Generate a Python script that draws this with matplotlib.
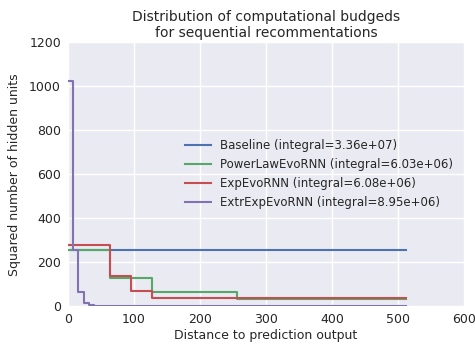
import numpy as np
import matplotlib
matplotlib.use("Agg")
import matplotlib.pyplot as plt

# step breakpoints (distance) and levels (squared hidden units)
base_x = [0, 512]
base_y = [256, 256]

power_x = [0, 64, 128, 256, 512]
power_y = [256, 128, 64, 32, 32]

exp_x = [0, 64, 96, 128, 512]
exp_y = [276, 138, 69, 34.5, 34.5]

extr_x = [0, 8, 16, 24, 32, 40, 512]
extr_y = [1024, 256, 64, 16, 4, 1, 1]

labels = [
    "Baseline (integral=3.36e+07)",
    "PowerLawEvoRNN (integral=6.03e+06)",
    "ExpEvoRNN (integral=6.08e+06)",
    "ExtrExpEvoRNN (integral=8.95e+06)",
]
colors = ["#4C72B0", "#55A868", "#C44E52", "#8172B2"]

plt.rcParams.update({
    "font.family": "DejaVu Sans",
    "axes.facecolor": "#EAEAF2",
    "axes.edgecolor": "white",
    "axes.grid": True,
    "grid.color": "white",
    "grid.linewidth": 1.0,
    "xtick.color": "#262626",
    "ytick.color": "#262626",
    "axes.labelcolor": "#262626",
    "text.color": "#262626",
})

fig = plt.figure(figsize=(4.75, 3.47), dpi=100)
ax = fig.add_axes([0.143, 0.118, 0.834, 0.76])

series = [(base_x, base_y), (power_x, power_y), (exp_x, exp_y), (extr_x, extr_y)]
for (xs, ys), lab, c in zip(series, labels, colors):
    ax.step(xs, ys, where="post", color=c, lw=1.5, label=lab)

ax.set_xlim(0, 600)
ax.set_ylim(0, 1200)
ax.set_axisbelow(True)
for sp in ax.spines.values():
    sp.set_visible(False)
ax.tick_params(length=0, labelsize=9, pad=5)
ax.set_xlabel("Distance to prediction output", fontsize=9, labelpad=2)
ax.set_ylabel("Squared number of hidden units", fontsize=9, labelpad=6)
ax.set_title("Distribution of computational budgeds\nfor sequential recommentations",
             fontsize=10, pad=4)
ax.legend(loc="center right", frameon=False, fontsize=8.5,
          bbox_to_anchor=(1.0, 0.5), handlelength=2.2)

plt.savefig("out.png", dpi=100)
